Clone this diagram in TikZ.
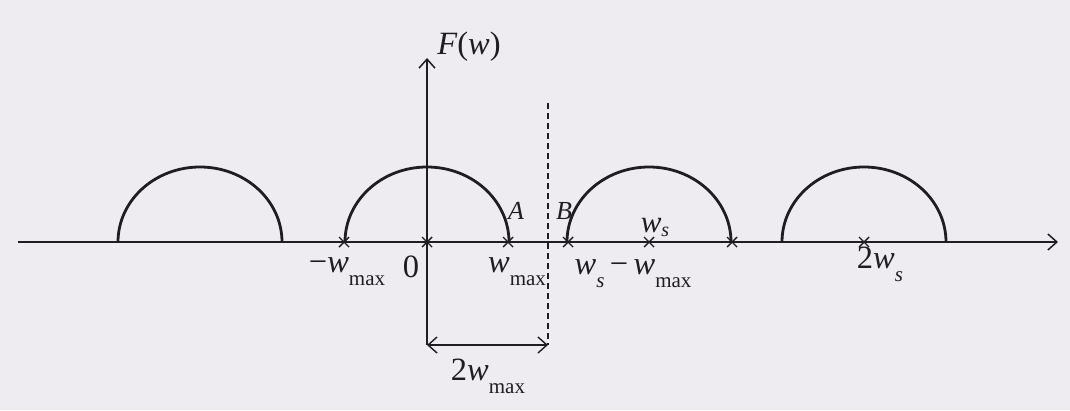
\documentclass[tikz,border=0pt]{standalone}
\usepackage{fontspec}
\setmainfont{Liberation Serif}
\usetikzlibrary{arrows.meta}
\definecolor{paper}{RGB}{238,236,240}
\definecolor{ink}{RGB}{30,30,34}
\newcommand{\mysub}[1]{\raisebox{-0.42em}{\fontsize{21}{21}\selectfont #1}}
\newcommand{\wv}{{\itshape w}}
\newcommand{\wmax}{\wv\mysub{max}}
\newcommand{\ws}{\wv\mysub{\itshape s}}
\begin{document}
\begin{tikzpicture}[x=1pt,y=-1pt,
  axisline/.style={draw=ink,line width=1.8pt},
  tip/.style={-{Straight Barb[length=9pt,width=16pt,line width=1.5pt]}},
  arcline/.style={draw=ink,line width=2.8pt},
  crossmark/.style={draw=ink,line width=1.4pt},
  lbl/.style={text=ink,font=\fontsize{32.5}{36}\selectfont,inner sep=0pt,anchor=base},
  smalllbl/.style={text=ink,font=\fontsize{26}{28}\selectfont\itshape,inner sep=0pt,anchor=base}]
\fill[paper] (0,0) rectangle (1070,410);
\useasboundingbox (0,0) rectangle (1070,410);
% axes
\coordinate (xs) at (18,242);
\coordinate (xe) at (1058,242);
\coordinate (yb) at (427,345);
\coordinate (ye) at (427,58);
\coordinate (dt) at (548,103);
\coordinate (db) at (548,345);
\draw[axisline,tip] (xs) -- (xe);
\draw[axisline,tip] (yb) -- (ye);
\draw[draw=ink,line width=1.8pt,dash pattern=on 6pt off 4pt] (dt) -- (db);
\draw[draw=ink,line width=1.4pt,{Straight Barb[length=9pt,width=16pt,line width=1.4pt]}-{Straight Barb[length=9pt,width=16pt,line width=1.4pt]}] (yb) -- (db);
% semicircles
\foreach \c [count=\i] in {200,427,649,864}{
  \coordinate (arc\i) at (\c-82,242);
  \draw[arcline] (arc\i) arc[start angle=180,end angle=360,x radius=82,y radius=75];
}
% crosses
\foreach \x in {344,427,508,568,649,732,864}{
  \draw[crossmark] (\x-5,237) -- (\x+5,247) (\x-5,247) -- (\x+5,237);
}
% labels
\node[lbl] (Fw) at (469,54) {\itshape F\upshape(\itshape w\upshape)};
\node[lbl] (mwmax) at (347,272) {−\wmax};
\node[lbl] (zero) at (411,277) {0};
\node[lbl] (wmaxl) at (517,272) {\wmax};
\node[lbl] (wsmw) at (633,274) {\ws\,−\,\wmax};
\node[lbl,font=\fontsize{31}{34}\selectfont] (wsab) at (655,232) {\wv\raisebox{-0.15em}{\fontsize{20}{20}\selectfont\itshape s}};
\node[lbl] (tws) at (880,268) {2\ws};
\node[lbl] (twmax) at (488,380) {2\wmax};
\node[smalllbl] (A) at (516,219) {A};
\node[smalllbl] (B) at (564,219) {B};
\end{tikzpicture}
\end{document}
